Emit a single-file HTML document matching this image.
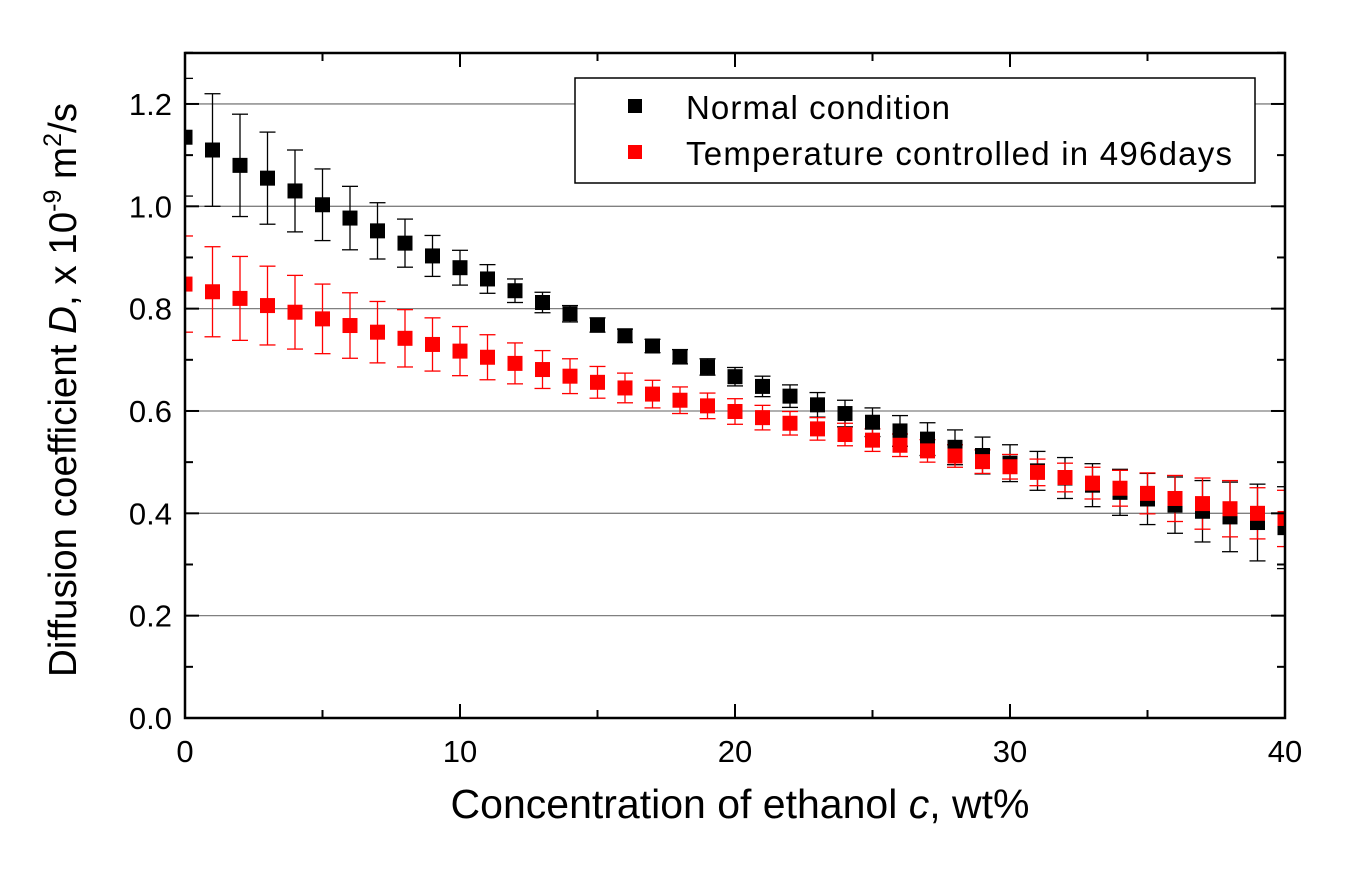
<!DOCTYPE html>
<html><head><meta charset="utf-8"><style>body{margin:0;background:#fff}svg{display:block;font-family:"Liberation Sans",Arial,sans-serif}</style></head>
<body>
<svg id="chart" width="1353" height="875">
<defs><clipPath id="pc"><rect x="185" y="53" width="1100" height="665"/></clipPath></defs>
<g id="grid"></g>
<g id="err" clip-path="url(#pc)"></g>
<g id="pts" clip-path="url(#pc)"></g>
<g id="axes"></g>
<g>
<rect x="575" y="78" width="680" height="105" fill="#fff" stroke="#000" stroke-width="1.5"/>
<rect x="628" y="99" width="14" height="14" fill="#000"/>
<text x="686" y="119" font-size="33" textLength="264">Normal condition</text>
<rect x="628" y="145" width="14" height="14" fill="#f00"/>
<text x="686" y="165" font-size="33" textLength="546">Temperature controlled in 496days</text>
</g>
<text x="740" y="818" font-size="41" text-anchor="middle">Concentration of ethanol <tspan font-style="italic">c</tspan>, wt%</text>
<text transform="translate(76,390) rotate(-90)" font-size="38.5" text-anchor="middle">Diffusion coefficient <tspan font-style="italic">D</tspan>, x 10<tspan font-size="25" dy="-15">-9</tspan><tspan dy="15"> m</tspan><tspan font-size="25" dy="-15">2</tspan><tspan dy="15">/s</tspan></text>
</svg>
<script>
const xVals=[0,1,2,3,4,5,6,7,8,9,10,11,12,13,14,15,16,17,18,19,20,21,22,23,24,25,26,27,28,29,30,31,32,33,34,35,36,37,38,39,40];
const normalVals=[1.135,1.11,1.08,1.055,1.03,1.003,0.977,0.952,0.928,0.903,0.88,0.858,0.835,0.812,0.79,0.768,0.747,0.727,0.706,0.686,0.667,0.648,0.629,0.612,0.595,0.578,0.561,0.545,0.529,0.513,0.498,0.483,0.469,0.455,0.441,0.428,0.416,0.404,0.393,0.382,0.372];
const normalErr=[0.115,0.11,0.1,0.09,0.08,0.07,0.062,0.055,0.047,0.04,0.034,0.028,0.023,0.02,0.016,0.014,0.013,0.013,0.014,0.016,0.018,0.02,0.022,0.024,0.026,0.028,0.03,0.032,0.034,0.036,0.036,0.038,0.04,0.042,0.045,0.05,0.055,0.06,0.068,0.075,0.08];
const tempVals=[0.848,0.833,0.82,0.806,0.793,0.78,0.767,0.754,0.742,0.73,0.717,0.705,0.693,0.681,0.668,0.656,0.645,0.633,0.621,0.61,0.599,0.587,0.576,0.565,0.554,0.543,0.533,0.522,0.512,0.501,0.491,0.48,0.47,0.459,0.449,0.439,0.429,0.419,0.409,0.4,0.39];
const tempErr=[0.094,0.088,0.082,0.077,0.072,0.068,0.064,0.06,0.056,0.052,0.048,0.044,0.04,0.037,0.034,0.031,0.029,0.027,0.026,0.025,0.025,0.024,0.023,0.022,0.022,0.022,0.022,0.022,0.022,0.023,0.024,0.026,0.028,0.031,0.035,0.04,0.045,0.05,0.055,0.05,0.055];
const xTicks=[0,10,20,30,40];
const yTicks=[0.0,0.2,0.4,0.6,0.8,1.0,1.2];
const yTickLabels=["0.0","0.2","0.4","0.6","0.8","1.0","1.2"];
const L=185,R=1285,T=53,B=718;
const sx=v=>L+v/40*(R-L);
const sy=v=>B-v*511.7;
const NS="http://www.w3.org/2000/svg";
function mk(p,tag,a){const e=document.createElementNS(NS,tag);for(const k in a)e.setAttribute(k,a[k]);p.appendChild(e);return e;}
const grid=document.getElementById('grid'),axes=document.getElementById('axes'),err=document.getElementById('err'),pts=document.getElementById('pts');
yTicks.forEach((v,i)=>{
 if(v>0){const g=mk(grid,'line',{x1:L,x2:R,y1:sy(v),y2:sy(v),stroke:'#808080','stroke-width':1.3});
 
 }
 const t=mk(axes,'text',{x:L-13,y:sy(v)+11,'font-size':31,'text-anchor':'end'});t.textContent=yTickLabels[i];
 
 
});
for(let v=0;v<=1.3001;v+=0.1){const y=sy(v);const maj=Math.round(v*10)%2===0;const len=maj?14:8;
 mk(axes,'line',{x1:L,x2:L+len,y1:y,y2:y,stroke:'#000','stroke-width':2});
 mk(axes,'line',{x1:R,x2:R-len,y1:y,y2:y,stroke:'#000','stroke-width':2});}
for(let v=0;v<=40;v+=5){const x=sx(v);const len=v%10===0?14:8;
 mk(axes,'line',{x1:x,x2:x,y1:B,y2:B-len,stroke:'#000','stroke-width':2});
 mk(axes,'line',{x1:x,x2:x,y1:T,y2:T+len,stroke:'#000','stroke-width':2});}
xTicks.forEach(v=>{const t=mk(axes,'text',{x:sx(v),y:B+44,'font-size':31,'text-anchor':'middle'});t.textContent=v;
 
 });
const fr=mk(axes,'rect',{x:L,y:T,width:R-L,height:B-T,fill:'none',stroke:'#000','stroke-width':2.5});


function series(vals,errs,col,name){
 vals.forEach((v,i)=>{const x=sx(xVals[i]),y1=sy(v+errs[i]),y2=sy(v-errs[i]);
  const g=mk(err,'g',{stroke:col,'stroke-width':1.3});
  
  
  mk(g,'line',{x1:x,x2:x,y1:y1,y2:y2});mk(g,'line',{x1:x-8,x2:x+8,y1:y1,y2:y1});mk(g,'line',{x1:x-8,x2:x+8,y1:y2,y2:y2});
 });
 vals.forEach((v,i)=>{const r=mk(pts,'rect',{x:sx(xVals[i])-7.5,y:sy(v)-7.5,width:15,height:15,fill:col});
  
  });
}
series(normalVals,normalErr,'#000','normal');
series(tempVals,tempErr,'#f00','temp');
</script>
</body></html>
